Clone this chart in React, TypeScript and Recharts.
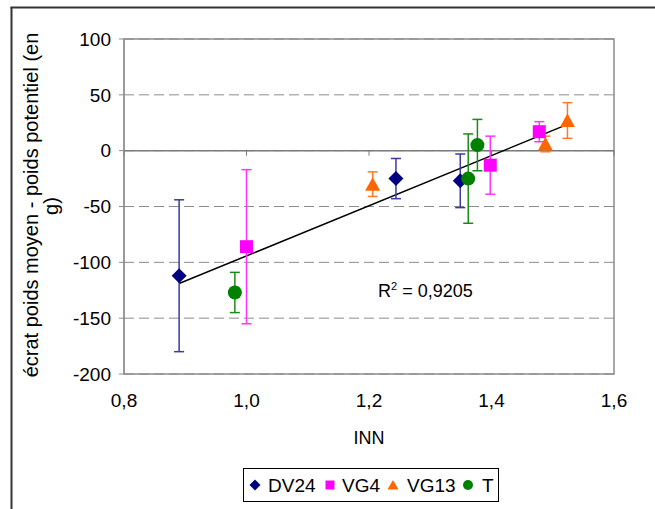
import React from "react";
import {
  ScatterChart,
  Scatter,
  XAxis,
  YAxis,
  CartesianGrid,
  ErrorBar,
  ReferenceLine,
  ReferenceArea,
  Legend,
} from "recharts";

// axis ticks
const xTicks = [0.8, 1.0, 1.2, 1.4, 1.6];
const yTicks = [-200, -150, -100, -50, 0, 50, 100];

// DV24
const dv24X = [0.89, 1.244, 1.349];
const dv24Y = [-112, -25, -27];
const dv24Err = [68, 18, 24];

// VG4
const vg4X = [1.0, 1.398, 1.478];
const vg4Y = [-86, -13, 17];
const vg4Err = [69, 26, 9];

// VG13
const vg13X = [1.206, 1.488, 1.524];
const vg13Y = [-30, 6, 27];
const vg13Err = [11, 7, 16];

// T
const tX = [0.981, 1.362, 1.377];
const tY = [-127, -25, 5];
const tErr = [18, 40, 23];

const r2Text = "0,9205";

const font = "'Liberation Sans', Arial, sans-serif";

type Pt = { x: number; y: number; err: number };
type Kind = "diamond" | "square" | "triangle" | "circle";

const zip = (xs: number[], ys: number[], es: number[]): Pt[] =>
  xs.map((x, i) => ({ x, y: ys[i], err: es[i] }));

const series: { name: string; kind: Kind; color: string; errColor: string; data: Pt[] }[] = [
  { name: "DV24", kind: "diamond", color: "#000080", errColor: "#3a3aa0", data: zip(dv24X, dv24Y, dv24Err) },
  { name: "VG4", kind: "square", color: "#ff00ff", errColor: "#ff33ff", data: zip(vg4X, vg4Y, vg4Err) },
  { name: "VG13", kind: "triangle", color: "#ff6600", errColor: "#ff7a26", data: zip(vg13X, vg13Y, vg13Err) },
  { name: "T", kind: "circle", color: "#008000", errColor: "#1a8a1a", data: zip(tX, tY, tErr) },
];

// linear trend over all points (least squares)
const all = series.flatMap((s) => s.data);
const mx = all.reduce((a, p) => a + p.x, 0) / all.length;
const my = all.reduce((a, p) => a + p.y, 0) / all.length;
const slope =
  all.reduce((a, p) => a + (p.x - mx) * (p.y - my), 0) /
  all.reduce((a, p) => a + (p.x - mx) ** 2, 0);
const intercept = my - slope * mx;
const xMin = Math.min(...all.map((p) => p.x));
const xMax = Math.max(...all.map((p) => p.x));

const Marker = ({ kind, cx, cy, color, s = 7 }: { kind: Kind; cx: number; cy: number; color: string; s?: number }) => {
  if (kind === "diamond")
    return <polygon points={`${cx},${cy - s - 0.5} ${cx + s + 0.5},${cy} ${cx},${cy + s + 0.5} ${cx - s - 0.5},${cy}`} fill={color} />;
  if (kind === "square")
    return <rect x={cx - s + 0.5} y={cy - s + 0.5} width={2 * s - 1} height={2 * s - 1} fill={color} />;
  if (kind === "triangle")
    return <polygon points={`${cx},${cy - s} ${cx + s + 0.5},${cy + s - 0.5} ${cx - s - 0.5},${cy + s - 0.5}`} fill={color} />;
  return <circle cx={cx} cy={cy} r={s} fill={color} />;
};

const legendPos = [
  { mx: 12, tx: 25 },
  { mx: 87, tx: 99 },
  { mx: 150, tx: 164 },
  { mx: 225, tx: 239 },
];

const renderLegend = () => (
  <svg width={256} height={34} style={{ display: "block" }}>
    <rect x={0.5} y={0.5} width={255} height={33} fill="#fff" stroke="#000" />
    {series.map((s, i) => (
      <g key={s.name}>
        <Marker kind={s.kind} cx={legendPos[i].mx} cy={17} color={s.color} s={5} />
        <text x={legendPos[i].tx} y={17} dominantBaseline="central" fontFamily={font} fontSize={19} fill="#000">
          {s.name}
        </text>
      </g>
    ))}
  </svg>
);

const fmt = (v: number) => v.toFixed(1).replace(".", ",");

export default function App() {
  return (
    <div style={{ position: "absolute", left: 0, top: 0, width: 655, height: 509, overflow: "hidden", background: "#fff" }}>
      <ScatterChart width={655} height={509} margin={{ top: 39, right: 41, bottom: 61, left: 0 }}>
        <CartesianGrid vertical={false} stroke="#8c8c8c" strokeDasharray="10 5" />
        <ReferenceArea x1={0.8} x2={1.6} y1={-200} y2={100} fill="none" stroke="#8c8c8c" strokeWidth={1.5} />
        <XAxis
          type="number"
          dataKey="x"
          domain={[0.8, 1.6]}
          ticks={xTicks}
          tickFormatter={fmt}
          axisLine={false}
          tickLine={false}
          tickSize={6}
          tickMargin={14}
          height={40}
          tick={{ fill: "#000", fontSize: 19, fontFamily: font }}
          allowDataOverflow
        />
        <YAxis
          type="number"
          dataKey="y"
          domain={[-200, 100]}
          ticks={yTicks}
          width={124}
          axisLine={{ stroke: "#8c8c8c" }}
          tickLine={{ stroke: "#8c8c8c" }}
          tickSize={5}
          tickMargin={8}
          tick={{ fill: "#000", fontSize: 19, fontFamily: font }}
          allowDataOverflow
        />
        <ReferenceLine y={0} stroke="#7a7a7a" strokeWidth={1.5} />
        {xTicks.map((t) => (
          <ReferenceLine key={t} segment={[{ x: t, y: 0 }, { x: t, y: -4.5 }]} stroke="#7a7a7a" />
        ))}
        <ReferenceLine
          segment={[
            { x: xMin, y: intercept + slope * xMin },
            { x: xMax, y: intercept + slope * xMax },
          ]}
          stroke="#000"
          strokeWidth={1.5}
        />
        {series.map((s) => (
          <Scatter
            key={s.name}
            name={s.name}
            data={s.data}
            fill={s.color}
            isAnimationActive={false}
            shape={(p: any) => <Marker kind={s.kind} cx={p.cx} cy={p.cy} color={s.color} />}
          >
            <ErrorBar dataKey="err" direction="y" width={5} stroke={s.errColor} strokeWidth={1.5} />
          </Scatter>
        ))}
        <Legend
          content={renderLegend}
          wrapperStyle={{ position: "absolute", left: 243, top: 468, width: 256, height: 34 }}
        />
      </ScatterChart>
      <svg width={655} height={509} style={{ position: "absolute", left: 0, top: 0, pointerEvents: "none" }}>
        <line x1={11.5} y1={7} x2={11.5} y2={509} stroke="#333" strokeWidth={2} />
        <line x1={10.5} y1={7.5} x2={655} y2={7.5} stroke="#333" strokeWidth={2} />
        <text
          transform="translate(31,205) rotate(-90)"
          textAnchor="middle"
          dominantBaseline="central"
          fontFamily={font}
          fontSize={20}
          fill="#000"
        >
          écrat poids moyen - poids potentiel (en
        </text>
        <text
          transform="translate(51,206) rotate(-90)"
          textAnchor="middle"
          dominantBaseline="central"
          fontFamily={font}
          fontSize={20}
          fill="#000"
        >
          g)
        </text>
        <text x={369} y={438} textAnchor="middle" dominantBaseline="central" fontFamily={font} fontSize={18} fill="#000">
          INN
        </text>
        <text x={378} y={297} fontFamily={font} fontSize={18} fill="#000">
          R<tspan dy={-7} fontSize={11}>2</tspan>
          <tspan dy={7}> = {r2Text}</tspan>
        </text>
      </svg>
    </div>
  );
}
